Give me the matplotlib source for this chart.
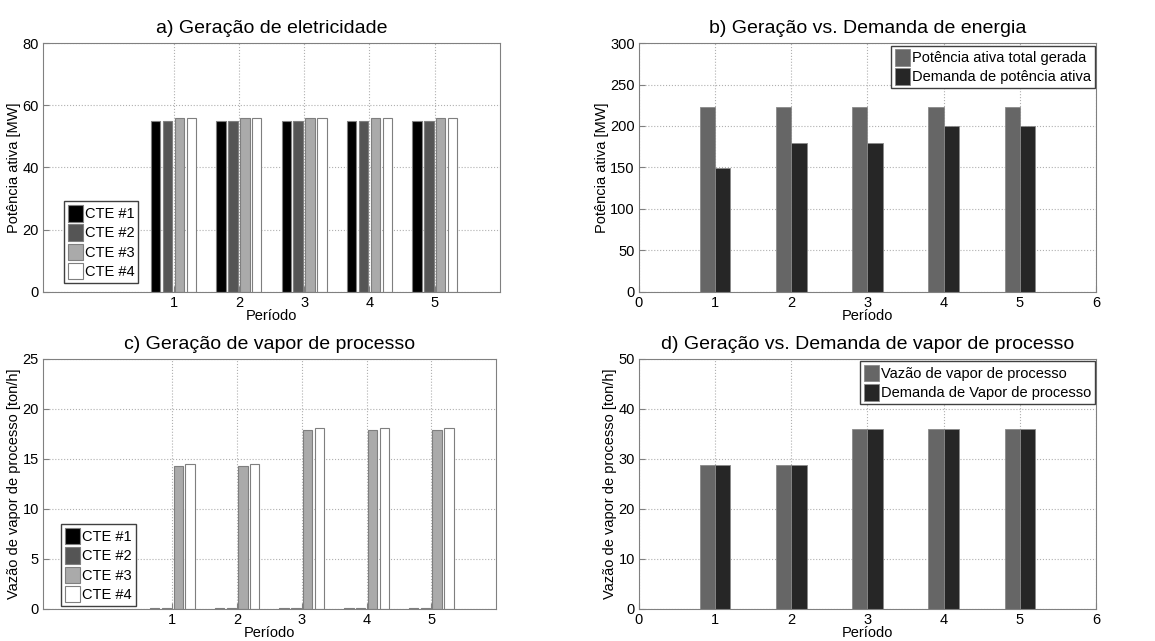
import matplotlib
matplotlib.use("Agg")
import matplotlib.pyplot as plt
import numpy as np

plt.rcParams['font.family'] = ['Liberation Sans', 'DejaVu Sans']

periodos = [1, 2, 3, 4, 5]

# a) geração de eletricidade [MW]
cte_labels = ["CTE #1", "CTE #2", "CTE #3", "CTE #4"]
pot_cte1 = [55, 55, 55, 55, 55]
pot_cte2 = [55, 55, 55, 55, 55]
pot_cte3 = [56, 56, 56, 56, 56]
pot_cte4 = [56, 56, 56, 56, 56]

# b) geração vs demanda de energia [MW]
pot_total = [222.5, 222.5, 222.5, 222.5, 222.5]
dem_pot = [149.5, 180, 180, 200, 200]

# c) vapor de processo [ton/h]
vap_cte1 = [0.05, 0.05, 0.05, 0.05, 0.05]
vap_cte2 = [0.05, 0.05, 0.05, 0.05, 0.05]
vap_cte3 = [14.25, 14.3, 17.93, 17.93, 17.93]
vap_cte4 = [14.5, 14.47, 18.05, 18.05, 18.05]

# d) vazão vs demanda de vapor [ton/h]
vazao_vap = [28.8, 28.8, 36.0, 36.0, 36.0]
dem_vap = [28.8, 28.8, 36.0, 36.0, 36.0]

cores_cte = ["#000000", "#555555", "#aaaaaa", "#ffffff"]
cores_dois = ["#666666", "#262626"]
edge = "#7f7f7f"
FS = 10.5

fig = plt.figure(figsize=(11.55, 6.41), dpi=100)
ax_a = fig.add_axes([0.0372, 0.5445, 0.3957, 0.3884])
ax_b = fig.add_axes([0.5532, 0.5445, 0.3957, 0.3884])
ax_c = fig.add_axes([0.0372, 0.0500, 0.3922, 0.3900])
ax_d = fig.add_axes([0.5532, 0.0500, 0.3957, 0.3900])


def estilo(ax, title, ylabel):
    ax.set_title(title, fontsize=14, pad=7)
    ax.set_ylabel(ylabel, fontsize=FS, labelpad=1)
    ax.set_xlabel("Período", fontsize=FS, labelpad=-1)
    ax.grid(True, linestyle=':', color='#b0b0b0', linewidth=0.8)
    ax.set_axisbelow(True)
    for s in ax.spines.values():
        s.set_color('#808080')
    ax.tick_params(direction='in', length=4, colors='#808080', labelcolor='black',
                   labelsize=FS, pad=3)


def legenda(ax, loc, anchor):
    ax.legend(loc=loc, bbox_to_anchor=anchor, borderaxespad=0,
              fontsize=FS, fancybox=False, framealpha=1, edgecolor='#404040',
              handlelength=1.05, handleheight=1.35, handletextpad=0.15,
              labelspacing=0.2, borderpad=0.25)


def grupo4(ax, series, legend_anchor):
    x = np.array(periodos)
    offs = [-1.5, -0.5, 0.5, 1.5]
    for vals, off, cor, lab in zip(series, offs, cores_cte, cte_labels):
        ax.bar(x + off * 0.182, vals, width=0.145, color=cor, edgecolor=edge,
               linewidth=0.8, label=lab)
    ax.set_xlim(-1, 6)
    ax.set_xticks(periodos)
    legenda(ax, 'lower left', legend_anchor)


def grupo2(ax, s1, s2, labels, loc_anchor):
    x = np.array(periodos)
    ax.bar(x - 0.1, s1, width=0.2, color=cores_dois[0], edgecolor='#8a8a8a',
           linewidth=0.6, label=labels[0])
    ax.bar(x + 0.1, s2, width=0.2, color=cores_dois[1], edgecolor='#8a8a8a',
           linewidth=0.6, label=labels[1])
    ax.set_xlim(0, 6)
    ax.set_xticks(range(0, 7))
    legenda(ax, 'upper right', loc_anchor)


grupo4(ax_a, [pot_cte1, pot_cte2, pot_cte3, pot_cte4], (0.046, 0.036))
ax_a.set_ylim(0, 80)
ax_a.set_yticks(range(0, 81, 20))
estilo(ax_a, "a) Geração de eletricidade", "Potência ativa [MW]")

grupo2(ax_b, pot_total, dem_pot,
       ["Potência ativa total gerada", "Demanda de potência ativa"], (0.998, 0.99))
ax_b.set_ylim(0, 300)
ax_b.set_yticks(range(0, 301, 50))
estilo(ax_b, "b) Geração vs. Demanda de energia", "Potência ativa [MW]")

grupo4(ax_c, [vap_cte1, vap_cte2, vap_cte3, vap_cte4], (0.04, 0.012))
ax_c.set_ylim(0, 25)
ax_c.set_yticks(range(0, 26, 5))
estilo(ax_c, "c) Geração de vapor de processo", "Vazão de vapor de processo [ton/h]")

grupo2(ax_d, vazao_vap, dem_vap,
       ["Vazão de vapor de processo", "Demanda de Vapor de processo"], (0.998, 0.99))
ax_d.set_ylim(0, 50)
ax_d.set_yticks(range(0, 51, 10))
estilo(ax_d, "d) Geração vs. Demanda de vapor de processo", "Vazão de vapor de processo [ton/h]")

fig.savefig("out.png", dpi=100, facecolor='white')
plt.close(fig)
